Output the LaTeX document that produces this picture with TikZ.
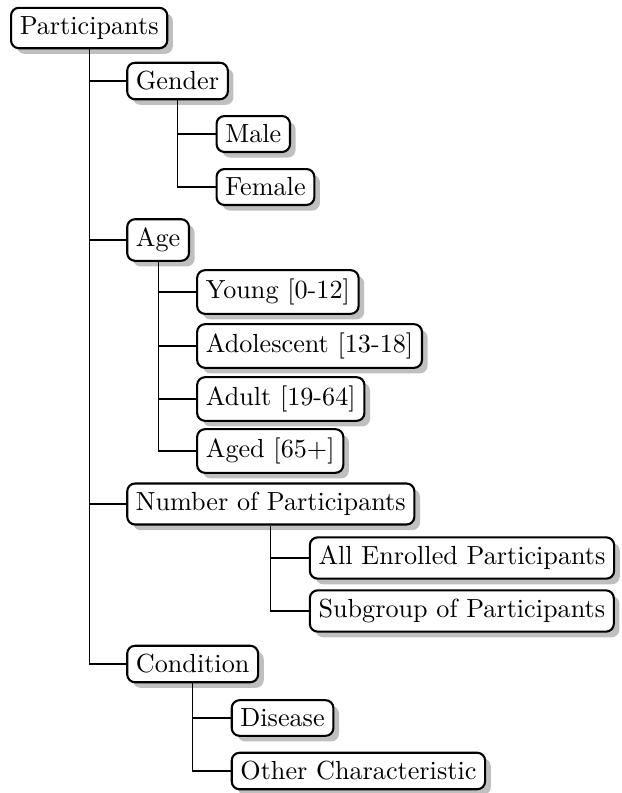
\documentclass[tikz,border=0pt]{standalone}
\usetikzlibrary{shadows,calc}
\begin{document}
\begin{tikzpicture}[x=0.382pt,y=-0.382pt,
  box/.style={draw, thick, rounded corners=3pt, fill=white, drop shadow, inner sep=3.333pt, anchor=west},
  conn/.style={line width=0.45pt}]
\useasboundingbox (0,0) rectangle (622,793);
% root
\node[box] (root) at (10,28) {Participants};
\coordinate (r1) at ($(root.south)+(37,0)$);
\node[box] (gender) at (r1 |- 0,81) {Gender};
\node[box] (age) at (r1 |- 0,240) {Age};
\node[box] (num) at (r1 |- 0,504) {Number of Participants};
\node[box] (cond) at (r1 |- 0,664) {Condition};
% gender
\coordinate (g1) at ($(gender.south)+(38,0)$);
\node[box] (male) at (g1 |- 0,134) {Male};
\node[box] (female) at (g1 |- 0,187) {Female};
% age
\coordinate (a1) at ($(age.south)+(38,0)$);
\node[box] (young) at (a1 |- 0,292) {Young [0-12]};
\node[box] (adol) at (a1 |- 0,346) {Adolescent [13-18]};
\node[box] (adult) at (a1 |- 0,399) {Adult [19-64]};
\node[box] (aged) at (a1 |- 0,451) {Aged [65+]};
% number
\coordinate (n1) at ($(num.south)+(38,0)$);
\node[box] (all) at (n1 |- 0,558) {All Enrolled Participants};
\node[box] (sub) at (n1 |- 0,611) {Subgroup of Participants};
% condition
\coordinate (c1) at ($(cond.south)+(38,0)$);
\node[box] (dis) at (c1 |- 0,718) {Disease};
\node[box] (other) at (c1 |- 0,771) {Other Characteristic};
% connectors
\foreach \p/\c in {root/gender, root/age, root/num, root/cond,
  gender/male, gender/female,
  age/young, age/adol, age/adult, age/aged,
  num/all, num/sub,
  cond/dis, cond/other}
  \draw[conn] (\p.south) |- (\c.west);
\end{tikzpicture}
\end{document}
